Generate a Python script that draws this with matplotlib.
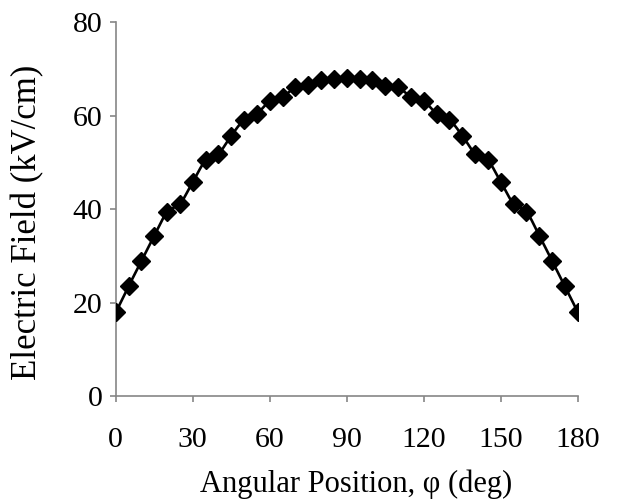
import numpy as np
import matplotlib
matplotlib.use("Agg")
import matplotlib.pyplot as plt

angles = list(range(0, 181, 5))
field = [17.9, 23.5, 28.9, 34.3, 39.4, 41.1, 45.8, 50.4, 51.8, 55.7,
         59.1, 60.4, 63.1, 64.0, 66.0, 66.5, 67.7, 67.9, 68.0,
         67.9, 67.7, 66.4, 66.0, 64.0, 63.1, 60.4, 59.1, 55.7, 51.8,
         50.4, 45.8, 41.1, 39.4, 34.3, 28.9, 23.5, 17.9]
xticks = [0, 30, 60, 90, 120, 150, 180]
yticks = [0, 20, 40, 60, 80]


def catmull_rom(x, y, n=12, tension=0.5):
    x = np.asarray(x, float)
    y = np.asarray(y, float)
    px = np.concatenate([[x[0]], x, [x[-1]]])
    py = np.concatenate([[y[0]], y, [y[-1]]])
    ox, oy = [], []
    for i in range(1, len(px) - 2):
        p0 = np.array([px[i - 1], py[i - 1]])
        p1 = np.array([px[i], py[i]])
        p2 = np.array([px[i + 1], py[i + 1]])
        p3 = np.array([px[i + 2], py[i + 2]])
        c1 = p1 + (p2 - p0) * tension / 3
        c2 = p2 - (p3 - p1) * tension / 3
        t = np.linspace(0, 1, n, endpoint=False)[:, None]
        b = ((1 - t) ** 3) * p1 + 3 * ((1 - t) ** 2) * t * c1 + 3 * (1 - t) * t ** 2 * c2 + t ** 3 * p2
        ox.extend(b[:, 0])
        oy.extend(b[:, 1])
    ox.append(x[-1])
    oy.append(y[-1])
    return np.array(ox), np.array(oy)


plt.rcParams['font.family'] = ['Liberation Serif', 'DejaVu Serif']

fig = plt.figure(figsize=(6.26, 5.03), dpi=100)
ax = fig.add_axes([0.185, 0.2127, 0.738, 0.7435])

sx, sy = catmull_rom(angles, field)
ax.plot(sx, sy, color='black', lw=1.9, zorder=2)
ax.plot(angles, field, linestyle='none', marker='D', ms=9.5, color='black', zorder=3)

ax.set_xlim(0, 180)
ax.set_ylim(0, 80)
ax.set_xticks(xticks)
ax.set_yticks(yticks)
ax.tick_params(axis='both', colors='#868686', labelcolor='black', labelsize=21.5,
               length=4.5, width=1.2, direction='out')
ax.tick_params(axis='x', pad=18)
ax.tick_params(axis='y', pad=5)
for s in ['top', 'right']:
    ax.spines[s].set_visible(False)
for s in ['left', 'bottom']:
    ax.spines[s].set_color('#868686')
    ax.spines[s].set_linewidth(1.2)

ax.set_xlabel('Angular Position, φ (deg)', fontsize=22)
ax.set_ylabel('Electric Field (kV/cm)', fontsize=25)
ax.xaxis.set_label_coords(0.52, -0.235, transform=ax.transAxes)
ax.yaxis.set_label_coords(-0.19, 0.465, transform=ax.transAxes)
ax.xaxis.label.set_verticalalignment('center')
ax.yaxis.label.set_verticalalignment('center')

fig.savefig('out.png', dpi=100)
